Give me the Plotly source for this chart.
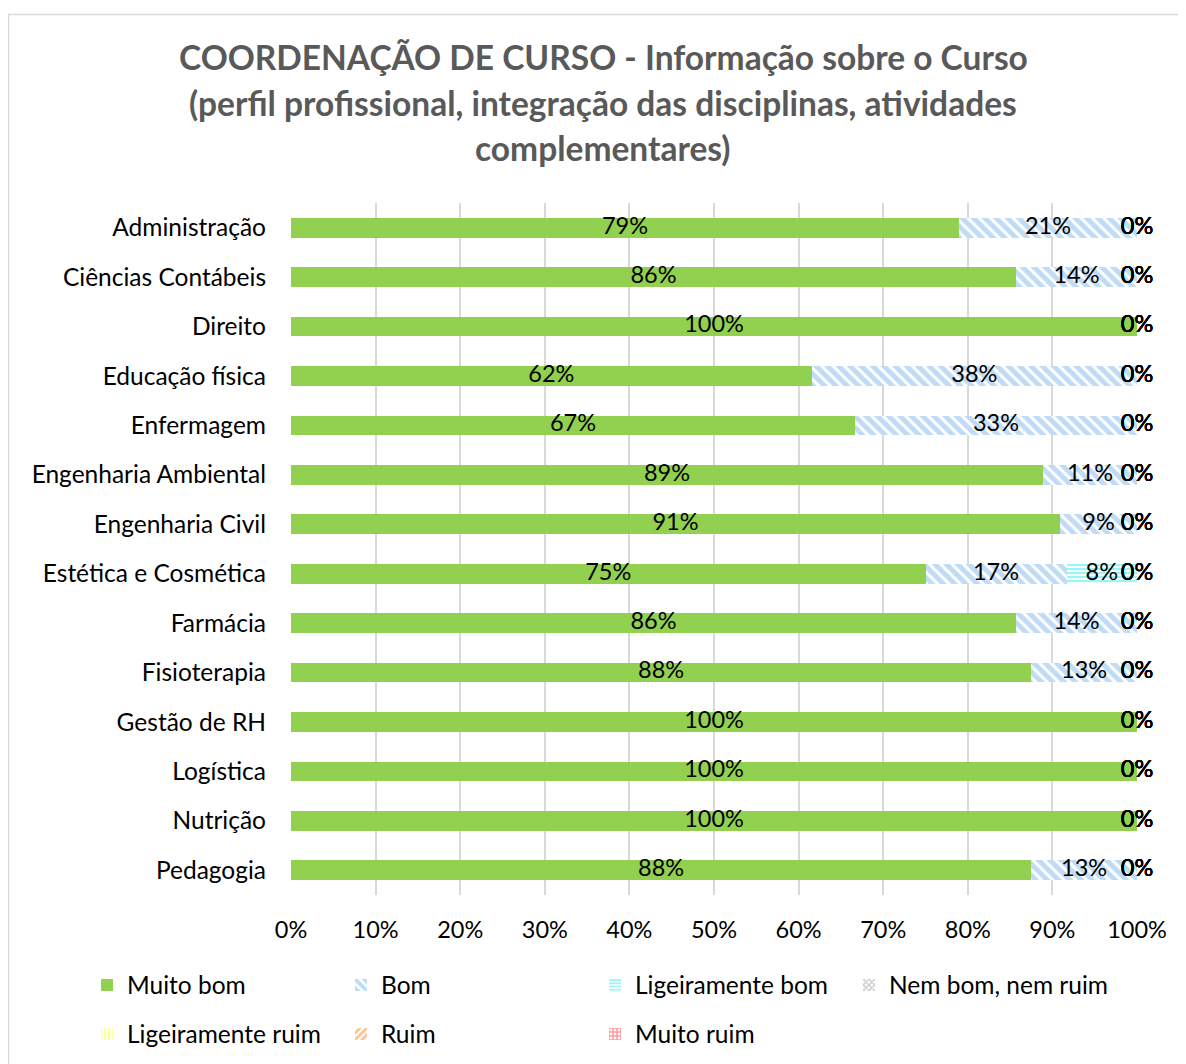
import plotly.graph_objects as go

cursos = ["Administração", "Ciências Contábeis", "Direito", "Educação física", "Enfermagem",
          "Engenharia Ambiental", "Engenharia Civil", "Estética e Cosmética", "Farmácia",
          "Fisioterapia", "Gestão de RH", "Logística", "Nutrição", "Pedagogia"]

muito_bom = [78.95, 85.71, 100, 61.54, 66.67, 88.89, 90.91, 75.0, 85.71, 87.5, 100, 100, 100, 87.5]
bom = [21.05, 14.29, 0, 38.46, 33.33, 11.11, 9.09, 16.67, 14.29, 12.5, 0, 0, 0, 12.5]
lig_bom = [0, 0, 0, 0, 0, 0, 0, 8.33, 0, 0, 0, 0, 0, 0]
nem = [0] * 14
lig_ruim = [0] * 14
ruim = [0] * 14
muito_ruim = [0] * 14

series_names = ["Muito bom", "Bom", "Ligeiramente bom", "Nem bom, nem ruim",
                "Ligeiramente ruim", "Ruim", "Muito ruim"]
series_vals = [muito_bom, bom, lig_bom, nem, lig_ruim, ruim, muito_ruim]
legend_of = ["legend", "legend", "legend", "legend3", "legend2", "legend2", "legend2"]

FONT = "Lato, Calibri, sans-serif"

def pat(shape, fg, size, sol=0.5):
    return dict(color="white", pattern=dict(shape=shape, fgcolor=fg, bgcolor="#FFFFFF",
                                            size=size, solidity=sol, fillmode="overlay"))

styles = [
    dict(color="#92D050"),
    pat("\\", "#7FB7EE", 8, 0.62),
    pat("-", "#33EEEE", 4, 0.55),
    pat("x", "#999999", 5, 0.6),
    pat("|", "#FFFF33", 5, 0.6),
    pat("/", "#F58A30", 6, 0.6),
    pat("+", "#FF3333", 5, 0.6),
]

fig = go.Figure()
for i, (name, vals) in enumerate(zip(series_names, series_vals)):
    fig.add_trace(go.Bar(
        name=name, y=cursos, x=vals, orientation="h",
        marker=dict(line=dict(width=0), **styles[i]),
        legend=legend_of[i],
        hoverinfo="skip",
    ))

# data labels centered on each segment
cum = [0.0] * len(cursos)
for name, vals in zip(series_names, series_vals):
    mids = [c + v / 2 for c, v in zip(cum, vals)]
    fig.add_trace(go.Scatter(
        x=mids, y=cursos, mode="text",
        text=[f"{round(v + 1e-9):.0f}%" for v in vals],
        textposition="middle center",
        textfont=dict(family=FONT, size=23.5, color="#000000"),
        showlegend=False, hoverinfo="skip", cliponaxis=False,
    ))
    cum = [c + v for c, v in zip(cum, vals)]

OFF = 8  # page body margin
W, H = 1186 - OFF, 1064 - OFF
L, R, T, B = 291 - OFF, 1137 - OFF, 203 - OFF, 895 - OFF

def px(x):
    return (x - OFF - L) / (R - L)

def py(y):
    return (B - (y - OFF)) / (B - T)

title_lines = ["COORDENAÇÃO DE CURSO - Informação sobre o Curso",
               "(perfil profissional, integração das disciplinas, atividades",
               "complementares)"]
for line, yy in zip(title_lines, [57, 103, 148]):
    fig.add_annotation(text=f"<b>{line}</b>", xref="paper", yref="paper",
                       x=px(603), y=py(yy), xanchor="center", yanchor="middle",
                       showarrow=False, font=dict(family=FONT, size=33.5, color="#595959"))

fig.add_shape(type="rect", xref="paper", yref="paper",
              x0=px(8.5), x1=px(1200), y0=py(1080), y1=py(14.5),
              line=dict(color="#D9D9D9", width=1.5), fillcolor="rgba(0,0,0,0)", layer="below")

legend_common = dict(orientation="h", xanchor="left", yanchor="middle", traceorder="normal",
                     entrywidth=209, entrywidthmode="pixels",
                     font=dict(family=FONT, size=24.5, color="#000000"),
                     bgcolor="rgba(0,0,0,0)")

fig.update_layout(
    width=W, height=H,
    margin=dict(l=L, r=W - R, t=T, b=H - B, autoexpand=False),
    barmode="stack", bargap=0.6,
    paper_bgcolor="white", plot_bgcolor="white",
    font=dict(family=FONT, size=22, color="#000000"),
    xaxis=dict(range=[0, 100], dtick=10, ticksuffix="%", showgrid=True,
               gridcolor="#D9D9D9", gridwidth=1.5, zeroline=False, showline=False,
               ticks="", ticklabelstandoff=18, automargin=False,
               tickfont=dict(family=FONT, size=23.5, color="#000000")),
    yaxis=dict(range=[len(cursos) - 0.5, -0.5], showgrid=False, ticks="", ticklabelstandoff=24,
               automargin=False, tickfont=dict(family=FONT, size=24.5, color="#000000")),
    legend=dict(x=px(87), y=py(985), **legend_common),
    legend2=dict(x=px(87), y=py(1034), **legend_common),
    legend3=dict(x=px(87 + 3 * 254), y=py(985), **{**legend_common, "entrywidth": 240}),
    showlegend=True,
)

fig.write_html("out.html")
